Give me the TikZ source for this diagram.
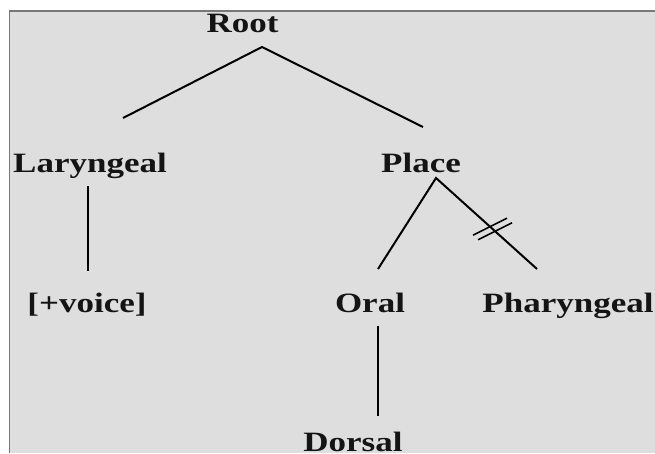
\documentclass[tikz,border=0pt]{standalone}
\usepackage{fontspec}
\setmainfont{Liberation Serif}[FakeStretch=1.25]
\usetikzlibrary{calc}
\definecolor{panel}{RGB}{222,222,222}
\definecolor{frameline}{RGB}{120,120,120}
\definecolor{ink}{RGB}{20,20,20}
\begin{document}
\begin{tikzpicture}[x=1pt,y=-1pt,
  lbl/.style={anchor=base,inner sep=0pt,text=ink,
    font=\fontsize{28}{32}\selectfont\bfseries},
  branch/.style={line width=2pt,black},
  cut/.style={line width=1.6pt,black}]
  % canvas and framed panel
  \useasboundingbox (0,0) rectangle (655,453);
  \fill[white] (0,0) rectangle (655,453);
  \fill[panel] (9.5,11) rectangle (655,453);
  \draw[frameline,line width=1.5pt] (9.5,453) -- (9.5,11) -- (655,11);

  % feature labels
  \node[lbl] (root)  at (242.5,32) {Root};
  \node[lbl] (lar)   at (90,172)   {Laryngeal};
  \node[lbl] (place) at (421,172)  {Place};
  \node[lbl] (voice) at (87,312)   {[+voice]};
  \node[lbl] (oral)  at (370,312)  {Oral};
  \node[lbl] (phar)  at (568,312)  {Pharyngeal};
  \node[lbl] (dors)  at (353,451)  {Dorsal};

  % branch end points
  \coordinate (rootJ)  at (262,47);
  \coordinate (larT)   at (123,118);
  \coordinate (placeT) at (423,127);
  \coordinate (larB)   at (88,186);
  \coordinate (voiceT) at (88,271);
  \coordinate (placeJ) at (436,178);
  \coordinate (oralT)  at (378,269);
  \coordinate (pharT)  at (537,269);
  \coordinate (oralB)  at (378,326);
  \coordinate (dorsT)  at (378,416);

  % tree branches
  \draw[branch] (larT) -- (rootJ) -- (placeT);
  \draw[branch] (larB) -- (voiceT);
  \draw[branch] (oralT) -- (placeJ) -- (pharT);
  \draw[branch] (oralB) -- (dorsT);

  % delinking marks on Place -- Pharyngeal
  \coordinate (cutA) at ($(placeJ)!0.535!(pharT)$);
  \coordinate (cutB) at ($(placeJ)!0.585!(pharT)$);
  \draw[cut] ($(cutA)+(-17,8.5)$) -- ($(cutA)+(17,-8.5)$);
  \draw[cut] ($(cutB)+(-17,8.5)$) -- ($(cutB)+(17,-8.5)$);
\end{tikzpicture}
\end{document}
